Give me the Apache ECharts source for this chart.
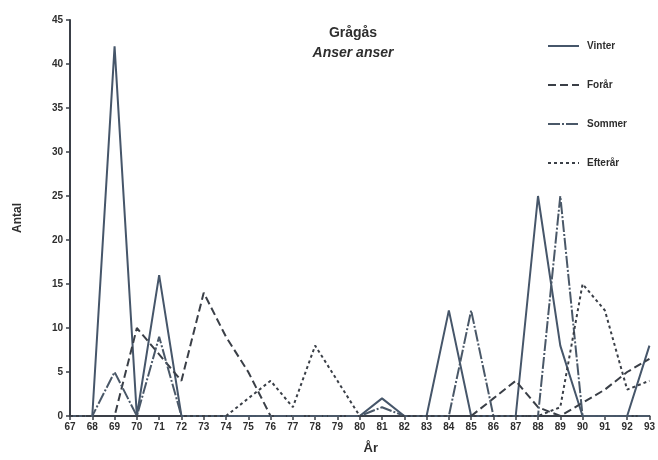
<!DOCTYPE html>
<html>
<head>
<meta charset="utf-8">
<script src="https://cdn.jsdelivr.net/npm/echarts@6/dist/echarts.min.js"></script>
<style>
  html, body { margin: 0; padding: 0; background: #ffffff; }
  #chart { width: 658px; height: 460px; }
</style>
</head>
<body>
<div id="chart"></div>
<script>
// Grågås (Anser anser) – antal pr. år fordelt på årstider
const years = ['67','68','69','70','71','72','73','74','75','76','77','78','79','80',
               '81','82','83','84','85','86','87','88','89','90','91','92','93'];
const vinter  = [0,0,42,0,16,0,0,0,0,0,0,0,0,0,2,0,0,12,0,0,0,25,8,0,0,0,8];
const forar   = [0,0,0,10,7,4,14,9,5,0,0,0,0,0,0,0,0,0,0,2,4,1,0,1.5,3,5,6.5];
const sommer  = [0,0,5,0,9,0,0,0,0,0,0,0,0,0,1,0,0,0,12,0,0,0,25,0,0,0,0];
const efterar = [0,0,0,0,0,0,0,0,2,4,1,8,4,0,0,0,0,0,0,0,0,0,1,15,12,3,4];
const yTicks = [0,5,10,15,20,25,30,35,40,45];

const font = 'Liberation Sans, Arial, sans-serif';
const ink = '#3a3f47';

function line(name, data, type, color) {
  return {
    name, type: 'line', data, symbol: 'none', smooth: false,
    lineStyle: { color, width: 2, type },
    itemStyle: { color },
    emphasis: { disabled: true }
  };
}

const chart = echarts.init(document.getElementById('chart'), null, { renderer: 'canvas' });
chart.setOption({
  animation: false,
  backgroundColor: '#ffffff',
  title: {
    text: 'Grågås',
    subtext: 'Anser anser',
    left: 348, top: 21, textAlign: 'center',
    itemGap: 6,
    textStyle: { fontFamily: font, fontWeight: 'bold', fontSize: 14, color: '#2e2e2e' },
    subtextStyle: { fontFamily: font, fontWeight: 'bold', fontStyle: 'italic', fontSize: 14, color: '#2e2e2e' }
  },
  legend: {
    orient: 'vertical',
    left: 542, top: 36,
    itemWidth: 31, itemHeight: 10, itemGap: 29,
    itemStyle: { opacity: 0 },
    textStyle: { fontFamily: font, fontWeight: 'bold', fontSize: 10, color: '#2e2e2e', padding: [0, 0, 0, 3] },
    data: ['Vinter', 'Forår', 'Sommer', 'Efterår']
  },
  grid: { left: 70, right: 5, top: 20, bottom: 41 },
  xAxis: {
    type: 'category', data: years, boundaryGap: false,
    name: 'År', nameLocation: 'middle', nameGap: 26,
    nameTextStyle: { fontFamily: font, fontWeight: 'bold', fontSize: 13, color: '#2e2e2e', padding: [0, 0, 0, 22] },
    axisLine: { lineStyle: { color: ink, width: 2 } },
    axisTick: { show: true, length: 4, lineStyle: { color: ink, width: 1.5 } },
    axisLabel: { fontFamily: font, fontWeight: 'bold', fontSize: 10, color: '#2e2e2e', margin: 6, interval: 0 },
    splitLine: { show: false }
  },
  yAxis: {
    type: 'value', min: 0, max: 45, interval: 5,
    name: 'Antal', nameLocation: 'middle', nameGap: 46, nameRotate: 90,
    nameTextStyle: { fontFamily: font, fontWeight: 'bold', fontSize: 12, color: '#2e2e2e' },
    axisLine: { show: true, lineStyle: { color: ink, width: 2 } },
    axisTick: { show: true, length: 4, lineStyle: { color: ink, width: 1.5 } },
    axisLabel: {
      fontFamily: font, fontWeight: 'bold', fontSize: 10, color: '#2e2e2e', margin: 7,
      formatter: v => yTicks.includes(v) ? String(v) : ''
    },
    splitLine: { show: false }
  },
  series: [
    line('Vinter', vinter, 'solid', '#46566a'),
    line('Forår', forar, [8, 4], ink),
    line('Sommer', sommer, [12, 2, 2, 2], '#4a5868'),
    line('Efterår', efterar, [3, 3], ink)
  ]
});
</script>
</body>
</html>
